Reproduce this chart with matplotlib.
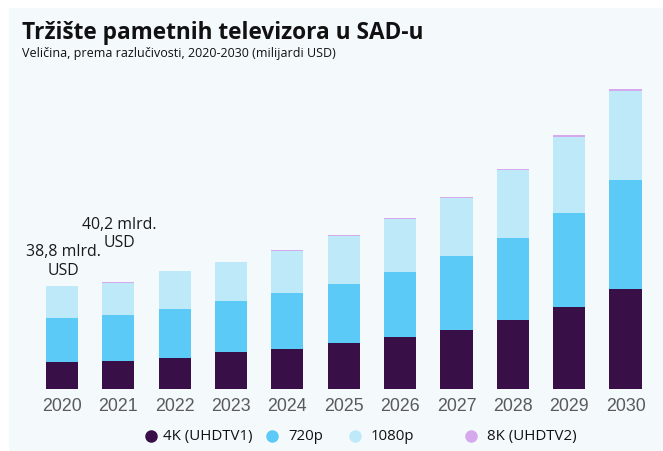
import matplotlib
matplotlib.use('Agg')
import matplotlib.pyplot as plt
from matplotlib.patches import Rectangle
from matplotlib.lines import Line2D

years = ['2020', '2021', '2022', '2023', '2024', '2025', '2026', '2027', '2028', '2029', '2030']
uhd_4k = [9.9, 10.6, 11.7, 13.7, 14.9, 17.2, 19.4, 22.2, 25.8, 30.9, 37.6]
res_720p = [16.6, 17.2, 18.3, 19.3, 21.1, 22.3, 24.8, 27.8, 31.2, 35.4, 41.2]
res_1080p = [12.1, 12.2, 14.3, 14.7, 16.1, 18.3, 19.9, 22.0, 25.6, 28.9, 33.8]
uhd_8k = [0.2, 0.2, 0.3, 0.3, 0.3, 0.4, 0.4, 0.5, 0.5, 0.6, 0.7]

series = [
    ('4K (UHDTV1)', uhd_4k, '#380f47'),
    ('720p', res_720p, '#5ccaf6'),
    ('1080p', res_1080p, '#bee9f9'),
    ('8K (UHDTV2)', uhd_8k, '#d6a8ec'),
]
callouts = [(0, '38,8 mlrd.\nUSD', 6), (1, '40,2 mlrd.\nUSD', 23)]

BG = '#f4f9fc'

fig = plt.figure(figsize=(6.63, 4.52), dpi=100)
fig.patch.set_facecolor('white')
fig.patches.append(Rectangle((9 / 663, 0), 1, 1 - 9 / 452, transform=fig.transFigure,
                             facecolor=BG, edgecolor='none', zorder=-10))

ax = fig.add_axes([0.051, 0.138, 0.935, 0.685])
ax.set_facecolor('none')

x = list(range(len(years)))
bottom = [0.0] * len(years)
for name, vals, color in series:
    ax.bar(x, vals, width=0.57, bottom=bottom, color=color, edgecolor='none', zorder=2)
    bottom = [b + v for b, v in zip(bottom, vals)]

for i, txt, off in callouts:
    ax.annotate(txt, xy=(x[i], bottom[i]), xytext=(1, off), textcoords='offset points',
                ha='center', va='bottom', fontsize=11.4, family='Open Sans',
                color='#1a1a1a', linespacing=1.2)

ax.set_xlim(-0.5, 10.5)
ax.set_ylim(0, 117)
ax.set_xticks(x)
ax.set_xticklabels(years, family='Liberation Sans', fontsize=12.8, color='#5a5a5a')
ax.tick_params(axis='x', length=0, pad=6)
ax.set_yticks([])
for s in ax.spines.values():
    s.set_visible(False)

fig.text(22 / 663, 1 - 39 / 452, 'Tržište pametnih televizora u SAD-u', family='Open Sans',
         fontweight='bold', fontsize=16.3, color='#111111', va='baseline')
fig.text(22 / 663, 1 - 57 / 452, 'Veličina, prema razlučivosti, 2020-2030 (milijardi USD)',
         family='Open Sans', fontsize=9.0, color='#111111', va='baseline')

# hand-placed legend row
legend_pos = [(151, 163), (272, 288), (355, 371), (471, 487)]
ly = 1 - 437 / 452
for (mx, tx), (name, vals, color) in zip(legend_pos, series):
    fig.add_artist(Line2D([mx / 663], [ly], marker='o', markersize=8, color=color,
                          linestyle='none', transform=fig.transFigure))
    fig.text(tx / 663, ly, name, family='Open Sans', fontsize=10.8, color='#111111',
             va='center')

fig.savefig('out.png', dpi=100, facecolor=fig.get_facecolor())
